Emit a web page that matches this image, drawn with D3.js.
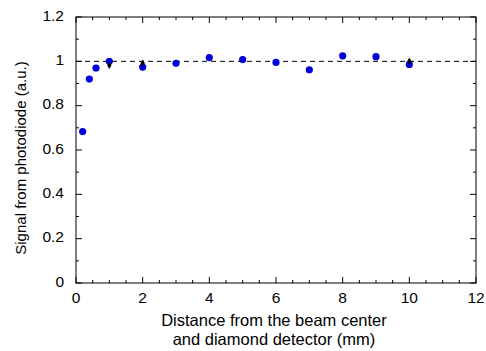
<!DOCTYPE html>
<html>
<head>
<meta charset="utf-8">
<script src="https://cdn.jsdelivr.net/npm/d3@7"></script>
<style>
  body { margin: 0; background: #fff; }
  svg { display: block; font-family: "Liberation Sans", Arial, sans-serif; }
</style>
</head>
<body>
<svg id="chart" width="486" height="351"></svg>
<script>
// Photodiode signal vs. distance
const photodiodeX = [0.2, 0.4, 0.6, 1, 2, 3, 4, 5, 6, 7, 8, 9, 10];
const photodiodeY = [0.683, 0.920, 0.970, 1.000, 0.974, 0.991, 1.017, 1.008, 0.995, 0.962, 1.025, 1.021, 0.986];
// Diamond detector reference points
const diamondX = [1, 2, 10];
const diamondY = [0.982, 0.991, 1.000];
const diamondErr = [0.012, 0.01, 0.008];
const xTicks = [0, 2, 4, 6, 8, 10, 12];
const yTicks = [0, 0.2, 0.4, 0.6, 0.8, 1, 1.2];
const yTickLabels = ["0", "0.2", "0.4", "0.6", "0.8", "1", "1.2"];

const svg = d3.select("#chart");
const L = 76, R = 476, T = 17, B = 283;
const x = d3.scaleLinear().domain([0, 12]).range([L, R]);
const y = d3.scaleLinear().domain([0, 1.2]).range([B, T]);

const g = svg.append("g");
const ax = "#000";

// minor and major ticks pointing inward on all four sides
const xMinor = d3.range(0, 12.01, 0.5);
const yMinor = d3.range(0, 1.201, 0.1);
function isMajorX(v) { return Math.abs(v / 2 - Math.round(v / 2)) < 1e-6; }
function isMajorY(v) { return Math.abs(v / 0.2 - Math.round(v / 0.2)) < 1e-6; }

xMinor.forEach(v => {
  const len = isMajorX(v) ? 6 : 3;
  g.append("line").attr("x1", x(v)).attr("x2", x(v)).attr("y1", B).attr("y2", B - len).attr("stroke", ax);
  g.append("line").attr("x1", x(v)).attr("x2", x(v)).attr("y1", T).attr("y2", T + len).attr("stroke", ax);
});
yMinor.forEach(v => {
  const len = isMajorY(v) ? 6 : 3;
  g.append("line").attr("x1", L).attr("x2", L + len).attr("y1", y(v)).attr("y2", y(v)).attr("stroke", ax);
  g.append("line").attr("x1", R).attr("x2", R - len).attr("y1", y(v)).attr("y2", y(v)).attr("stroke", ax);
});

// frame
g.append("rect").attr("x", L).attr("y", T).attr("width", R - L).attr("height", B - T)
  .attr("fill", "none").attr("stroke", ax).attr("stroke-width", 1);

// tick labels
g.selectAll(".xl").data(xTicks).enter().append("text")
  .attr("x", d => x(d)).attr("y", 303).attr("text-anchor", "middle")
  .attr("font-size", 15.5).text(d => d);
g.selectAll(".yl").data(yTicks).enter().append("text")
  .attr("x", 64).attr("y", d => y(d) + 3.5).attr("text-anchor", "end")
  .attr("font-size", 15.5).text((d, i) => yTickLabels[i]);

// reference level
g.append("line").attr("x1", L).attr("x2", R).attr("y1", y(1)).attr("y2", y(1))
  .attr("stroke", "#000").attr("stroke-dasharray", "5,4");

// photodiode points
g.selectAll(".pd").data(photodiodeX).enter().append("circle")
  .attr("cx", d => x(d)).attr("cy", (d, i) => y(photodiodeY[i])).attr("r", 3.6)
  .attr("fill", "#0000dd");

// diamond detector points with error bars
diamondX.forEach((d, i) => {
  g.append("line").attr("x1", x(d)).attr("x2", x(d))
    .attr("y1", y(diamondY[i] - diamondErr[i])).attr("y2", y(diamondY[i] + diamondErr[i]))
    .attr("stroke", "#000").attr("stroke-width", 1.2);
});
g.selectAll(".dd").data(diamondX).enter().append("path")
  .attr("transform", (d, i) => `translate(${x(d)},${y(diamondY[i])})`)
  .attr("d", d3.symbol(d3.symbolDiamond, 16)())
  .attr("fill", "#000");

// axis titles
svg.append("text").attr("x", 274).attr("y", 326).attr("text-anchor", "middle")
  .attr("font-size", 16.5).text("Distance from the beam center");
svg.append("text").attr("x", 274).attr("y", 345).attr("text-anchor", "middle")
  .attr("font-size", 16.5).text("and diamond detector (mm)");
svg.append("text").attr("transform", "translate(26,158) rotate(-90)").attr("text-anchor", "middle")
  .attr("font-size", 15).text("Signal from photodiode (a.u.)");
</script>
</body>
</html>
